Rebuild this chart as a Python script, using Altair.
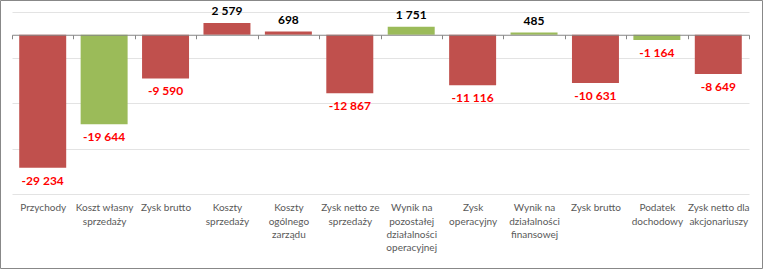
import json
import altair as alt
import pandas as pd

categories = [
    "Przychody",
    "Koszt własny|sprzedaży",
    "Zysk brutto",
    "Koszty|sprzedaży",
    "Koszty|ogólnego|zarządu",
    "Zysk netto ze|sprzedaży",
    "Wynik na|pozostałej|działalności|operacyjnej",
    "Zysk|operacyjny",
    "Wynik na|działalności|finansowej",
    "Zysk brutto",
    "Podatek|dochodowy",
    "Zysk netto dla|akcjonariuszy",
]
values = [-29234, -19644, -9590, 2579, 698, -12867, 1751, -11116, 485, -10631, -1164, -8649]
groups = ["A", "B", "A", "A", "A", "A", "B", "A", "B", "A", "B", "A"]

df = pd.DataFrame({
    "i": list(range(len(values))),
    "v": values,
    "g": groups,
    "lab": [f"{v:,}".replace(",", " ") for v in values],
})

FONT = "Lato"
W, H = 737, 182
ZERO_FROM_BOTTOM = H * 35000 / 40000  # pixel distance of 0 from bottom of plot

arr = json.dumps(categories, ensure_ascii=False)
label_expr = f"isValid({arr}[datum.value]) ? split({arr}[datum.value], '|') : ''"

x_enc = alt.X(
    "i:O",
    scale=alt.Scale(paddingInner=0, paddingOuter=0),
    axis=alt.Axis(
        title=None,
        orient="bottom",
        offset=-ZERO_FROM_BOTTOM,
        tickBand="extent",
        tickSize=4,
        tickColor="#868686",
        domainColor="#868686",
        labelPadding=164,
        labelBaseline="top",
        labelExpr=label_expr,
        labelFont=FONT,
        labelFontSize=10,
        labelColor="#595959",
        labelLineHeight=13.3,
        labelLimit=200,
        labelOverlap=False,
        labelAngle=0,
        zindex=1,
    ),
)
y_scale = alt.Scale(domain=[-35000, 5000], nice=False, zero=False)
y_enc = alt.Y(
    "v:Q",
    scale=y_scale,
    axis=alt.Axis(
        title=None, labels=False, ticks=False, domain=False,
        grid=True, gridColor="#E3E3E3", values=list(range(-35000, 5001, 5000)),
    ),
)

base = alt.Chart(df)

bars = base.mark_bar(width=alt.RelativeBandSize(0.765)).encode(
    x=x_enc,
    y=y_enc,
    y2=alt.datum(0),
    color=alt.Color("g:N", scale=alt.Scale(domain=["A", "B"], range=["#C0504D", "#9BBB59"]), legend=None),
)

neg = base.transform_filter("datum.v < 0").mark_text(
    baseline="top", dy=8, font=FONT, fontSize=12, color="#FF0000", fontWeight="bold"
).encode(x=alt.X("i:O"), y=alt.Y("v:Q"), text="lab:N")

pos = base.transform_filter("datum.v >= 0").mark_text(
    baseline="alphabetic", dy=-8, font=FONT, fontSize=12, color="#000000", fontWeight="bold"
).encode(x=alt.X("i:O"), y=alt.Y("v:Q"), text="lab:N")

frame = alt.Chart(alt.Data(values=[{"f": 1}])).mark_rect(
    fill=None, stroke="#888888", strokeWidth=1
).encode(
    x=alt.value(-11.5), x2=alt.value(750.5), y=alt.value(-11.5), y2=alt.value(256.5)
)

chart = alt.layer(bars, neg, pos, frame).properties(
    width=W, height=H,
    padding={"left": 12, "top": 12, "right": 15, "bottom": 76},
    autosize=alt.AutoSizeParams(type="none"),
    background="white",
).configure_view(stroke=None)

chart.save("out.html", embed_options={"renderer": "svg", "actions": False})
